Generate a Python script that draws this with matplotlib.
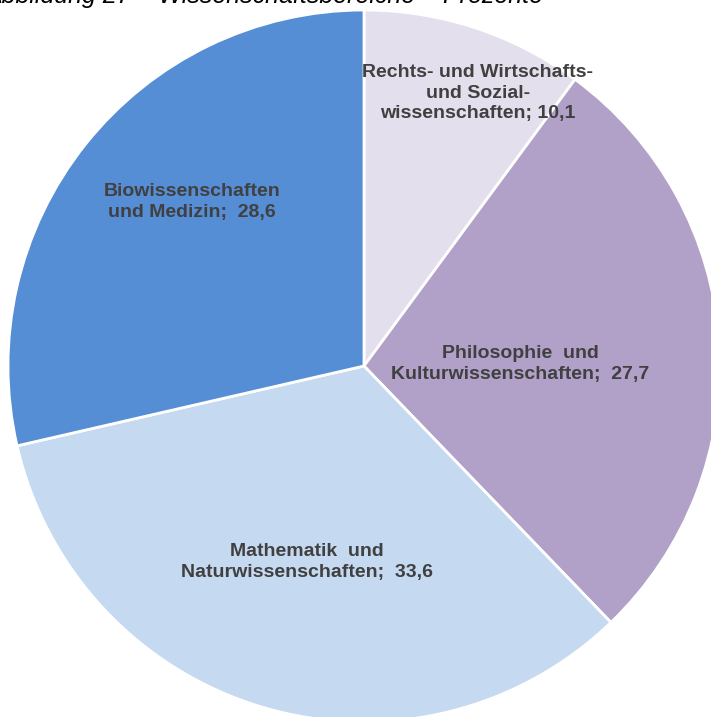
import matplotlib.pyplot as plt

# shares per Wissenschaftsbereich, clockwise from 12 o'clock
categories = [
    "Rechts- und Wirtschafts-\nund Sozial-\nwissenschaften",
    "Philosophie  und\nKulturwissenschaften",
    "Mathematik  und\nNaturwissenschaften",
    "Biowissenschaften\nund Medizin",
]
values = [10.1, 27.7, 33.6, 28.6]
colors = ["#E4DFEC", "#B1A0C7", "#C5D9F1", "#558ED5"]

# label anchors in pixel space (y measured from bottom)
label_pos = [(478, 717 - 93), (520, 717 - 364), (307, 717 - 562), (192, 717 - 202)]

plt.rcParams["font.family"] = ["Liberation Sans", "DejaVu Sans"]

fig = plt.figure(figsize=(7.11, 7.17), dpi=100)
ax = fig.add_axes([0, 0, 1, 1])

ax.pie(values, colors=colors, startangle=90, counterclock=False,
       center=(364, 717 - 366), radius=356,
       wedgeprops=dict(edgecolor="white", linewidth=2))
ax.set_xlim(0, 711)
ax.set_ylim(0, 717)
ax.set_aspect("equal")
ax.axis("off")

for name, val, (x, y) in zip(categories, values, label_pos):
    sep = ";  " if "Medizin" in name or "Kultur" in name or "Natur" in name else "; "
    txt = name + sep + f"{val:.1f}".replace(".", ",")
    ax.text(x, y, txt, ha="center", va="center", fontsize=14, fontweight="bold",
            color="#404040", linespacing=1.25)

fig.text(543 / 711, 1 - 3 / 717, "Abbildung 27 – Wissenschaftsbereiche – Prozente",
         ha="right", va="baseline", fontsize=18, style="italic", color="black")

fig.savefig("out.png", dpi=100)
